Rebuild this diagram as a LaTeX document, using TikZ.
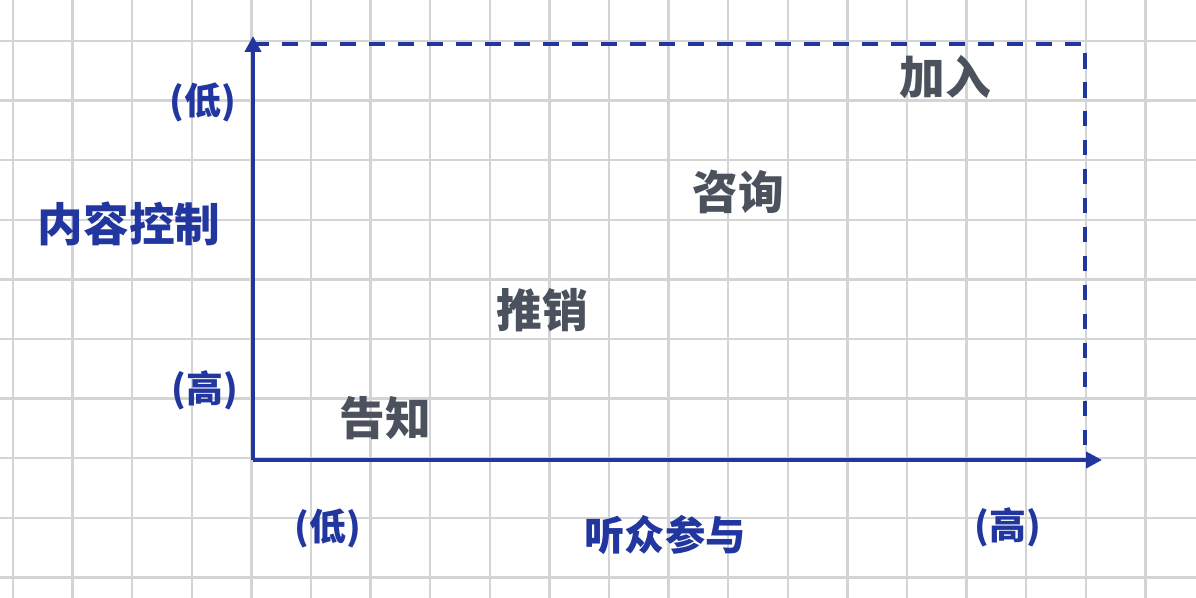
\documentclass[tikz,border=0pt]{standalone}
\usepackage{fontspec}
\setmainfont{Noto Sans CJK SC}
\usepackage{xcolor}
\definecolor{ink}{HTML}{2236A0}
\definecolor{pencil}{HTML}{4B525E}
\definecolor{gridline}{HTML}{D4D4D4}
\usetikzlibrary{arrows.meta, positioning}

\begin{document}
\begin{tikzpicture}[
  x=0.02cm, y=-0.02cm,
  grid/.style={draw=gridline, line width=1.3pt},
  axis/.style={draw=ink, line width=2.2pt, -{Triangle[length=9pt, width=9pt]}},
  bound/.style={draw=ink, line width=2.2pt, dash pattern=on 9pt off 7.5pt},
  axislabel/.style={text=ink, font=\fontsize{23}{25}\selectfont\bfseries},
  level/.style={text=ink, font=\fontsize{21}{23}\selectfont\bfseries},
  stage/.style={text=pencil, font=\fontsize{26}{28}\selectfont\bfseries}
]
  \fill[white] (0,0) rectangle (1196,598);
  \useasboundingbox (0,0) rectangle (1196,598);

  % grid paper
  \foreach \gx in {0,...,19}
    \draw[grid] ({13+59.6*\gx},0) -- ++(0,598);
  \foreach \gy in {0,...,9}
    \draw[grid] (0,{41+59.6*\gy}) -- ++(1196,0);

  \coordinate (origin) at (253,460);
  \coordinate (ytop)   at (253,36);
  \coordinate (xend)   at (1102,460);
  \coordinate (tl)     at (253,44);
  \coordinate (tr)     at (1085,44);
  \coordinate (br)     at (1085,460);

  \draw[bound] (tl) -- (tr) -- (br);
  \draw[axis] (origin) -- (ytop);
  \draw[axis] (origin) -- (xend);

  % axis labels
  \node[level]     (ylow)   at (203,102)  {(低)};
  \node[axislabel, font=\fontsize{26}{28}\selectfont\bfseries]
                   (yname)  at (129,224)  {内容控制};
  \node[level]     (yhigh)  at (205,390)  {(高)};
  \node[level]     (xlow)   at (328,528)  {(低)};
  \node[axislabel] (xname)  at (665,535)  {听众参与};
  \node[level]     (xhigh)  at (1008,527) {(高)};

  % stages
  \node[stage] (tell)    at (385,418) {告知};
  \node[stage] (sell)    at (542,310) {推销};
  \node[stage] (consult) at (738,192) {咨询};
  \node[stage] (join)    at (945,77)  {加入};
\end{tikzpicture}
\end{document}
